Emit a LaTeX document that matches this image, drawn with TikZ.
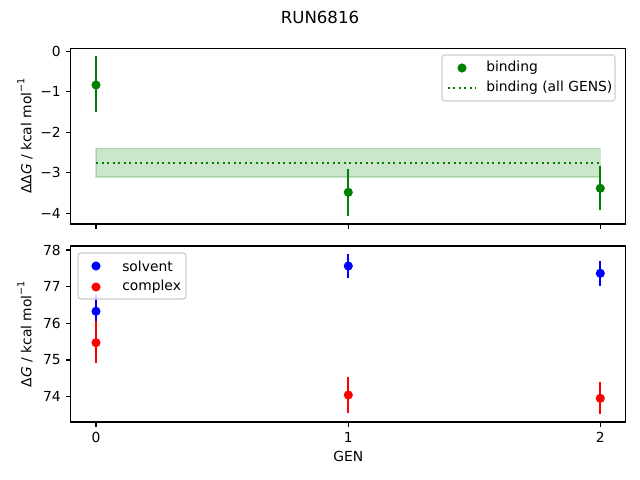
\documentclass[tikz,border=0pt]{standalone}
\usepackage{fontspec}
\setmainfont{DejaVu Sans}
\definecolor{mgreen}{HTML}{008000}
\definecolor{frame}{HTML}{CCCCCC}
\newcommand{\supm}{\raisebox{0.9ex}{\fontsize{7}{8}\selectfont −1}}
\begin{document}
\begin{tikzpicture}[x=0.01in,y=-0.01in,
  spine/.style={line width=0.8pt,line cap=rect},
  tick/.style={line width=0.8pt},
  lbl/.style={font=\fontsize{10}{12}\selectfont,inner sep=0pt},
  ebar/.style={line width=1.5pt},
  mk/.style={radius=3.3pt},
  legbox/.style={draw=frame,line width=0.8pt,fill=white,fill opacity=0.8,rounded corners=2pt},
  dotln/.style={mgreen,line width=1.5pt,dash pattern=on 1.5pt off 2.475pt}]
\useasboundingbox (0,0) rectangle (640,480);
% title
\node[font=\fontsize{12}{14}\selectfont,inner sep=0pt] (title) at (320,17) {RUN6816};
% ---------- top axes ----------
\fill[mgreen,opacity=0.2] (96,148.5) rectangle (600.3,176.9);
\draw[mgreen,opacity=0.2,line width=1pt] (96,148.5) rectangle (600.3,176.9);
\draw[dotln] (96,162.7) -- (600.3,162.7);
\foreach \x/\y/\a/\b in {96/85/56/112.3, 348.3/192.3/169.3/215.7, 600.3/188.3/166/210}{
  \draw[ebar,mgreen] (\x,\a) -- (\x,\b);
  \fill[mgreen] (\x,\y) circle[mk];
}
\draw[spine] (70.8,48.3) rectangle (625.5,224);
\foreach \x in {96,348.3,600.3} \draw[tick] (\x,224) -- (\x,228.9);
\foreach \v/\y in {0/51.3,−1/91.8,−2/132.3,−3/172.8,−4/213.3}{
  \draw[tick] (70.8,\y) -- (65.9,\y);
  \node[lbl,anchor=east] at (61,\y) {\v};
}
\node[lbl,rotate=90] (ylab1) at (25,136) {ΔΔ\textit{G} / kcal mol\supm};
% top legend
\draw[legbox] (442,55) rectangle (615,101);
\fill[mgreen] (462,68) circle[mk];
\node[lbl,anchor=west] (l1) at (486,68) {binding};
\draw[dotln] (447.5,88) -- (475.3,88);
\node[lbl,anchor=west] (l2) at (486,88) {binding (all GENS)};
% ---------- bottom axes ----------
\foreach \x/\y/\a/\b in {96/311.3/295/327.6, 348.3/266/254/277.7, 600.3/273.3/261/285.7}{
  \draw[ebar,blue] (\x,\a) -- (\x,\b);
  \fill[blue] (\x,\y) circle[mk];
}
\foreach \x/\y/\a/\b in {96/342.7/321.5/363.5, 348.3/395/377/412.7, 600.3/398.3/382/413.7}{
  \draw[ebar,red] (\x,\a) -- (\x,\b);
  \fill[red] (\x,\y) circle[mk];
}
\draw[spine] (70.8,246) rectangle (625.5,422);
\foreach \x/\t in {96/0,348.3/1,600.3/2}{
  \draw[tick] (\x,422) -- (\x,426.9);
  \node[lbl,anchor=north] at (\x,431.8) {\t};
}
\foreach \v/\y in {78/250,77/286.67,76/323.33,75/360,74/396.67}{
  \draw[tick] (70.8,\y) -- (65.9,\y);
  \node[lbl,anchor=east] at (61,\y) {\v};
}
\node[lbl,rotate=90] (ylab2) at (25,334) {Δ\textit{G} / kcal mol\supm};
\node[lbl,anchor=north] (xlab) at (348.2,450.5) {GEN};
% bottom legend
\draw[legbox] (78,253) rectangle (186,299);
\fill[blue] (96,266) circle[mk];
\node[lbl,anchor=west] (s1) at (122,266) {solvent};
\fill[red] (96,287) circle[mk];
\node[lbl,anchor=west] (s2) at (122,287) {complex};
\end{tikzpicture}
\end{document}
